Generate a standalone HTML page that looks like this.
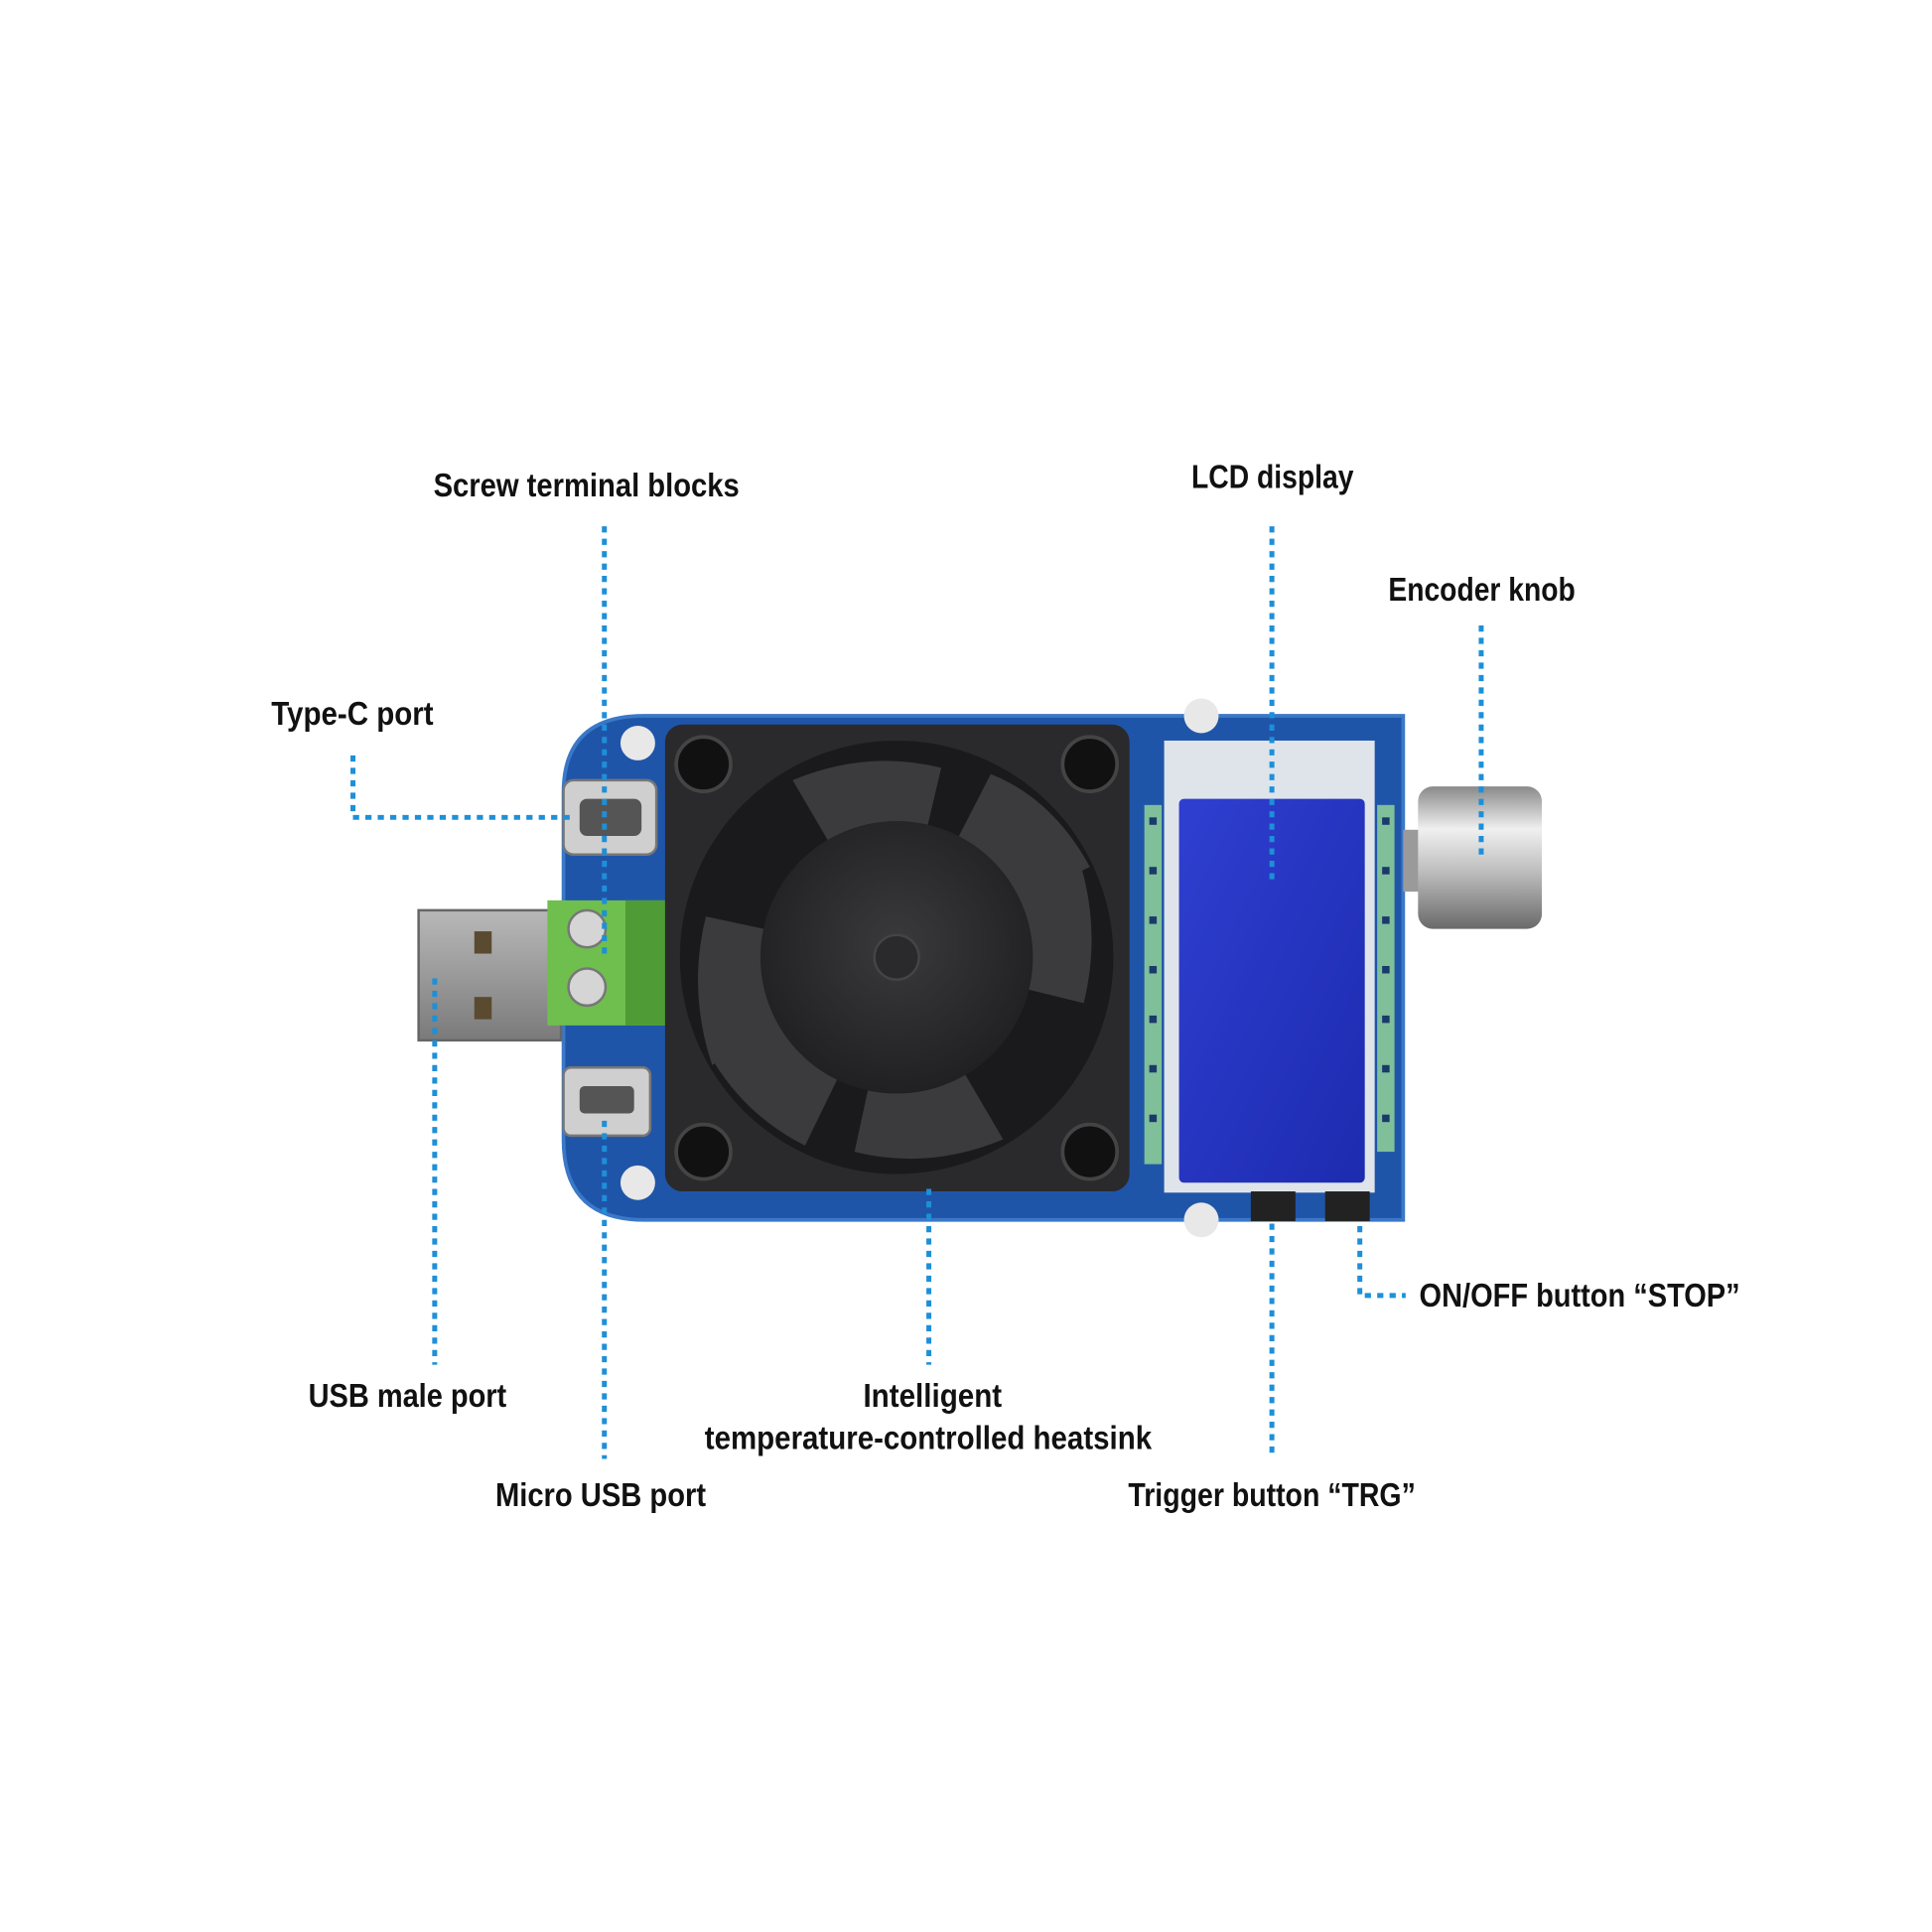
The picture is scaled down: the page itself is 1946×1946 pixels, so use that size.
<!DOCTYPE html>
<html><head><meta charset="utf-8"><style>
html,body{margin:0;padding:0;background:#fff;}
svg{display:block;}
text{font-family:"Liberation Sans Narrow","Liberation Sans",sans-serif;font-weight:bold;font-size:27px;fill:#111;}
</style></head><body>
<svg width="1946" height="1946" viewBox="0 0 1560 1560" xmlns="http://www.w3.org/2000/svg">
<defs>
<radialGradient id="fanhub" cx="50%" cy="45%" r="60%"><stop offset="0" stop-color="#3a3a3c"/><stop offset="1" stop-color="#1e1e20"/></radialGradient>
<linearGradient id="knob" x1="0" y1="0" x2="0" y2="1"><stop offset="0" stop-color="#8a8a8a"/><stop offset="0.3" stop-color="#f0f0f0"/><stop offset="0.6" stop-color="#bdbdbd"/><stop offset="1" stop-color="#6a6a6a"/></linearGradient>
<linearGradient id="usb" x1="0" y1="0" x2="0" y2="1"><stop offset="0" stop-color="#b8b8b8"/><stop offset="0.5" stop-color="#9a9a9a"/><stop offset="1" stop-color="#7a7a7a"/></linearGradient>
<linearGradient id="lcd" x1="0" y1="0" x2="1" y2="1"><stop offset="0" stop-color="#2f3fd0"/><stop offset="1" stop-color="#1d2bb0"/></linearGradient>
</defs>
<!-- PCB -->
<path d="M520 578 L1133 578 L1133 985 L520 985 Q455 985 455 920 L455 640 Q455 578 520 578 Z" fill="#1f55a8"/>
<path d="M520 578 L1133 578 L1133 985 L520 985 Q455 985 455 920 L455 640 Q455 578 520 578 Z" fill="none" stroke="#3a78c8" stroke-width="3"/>
<!-- white mounting pads -->
<circle cx="515" cy="600" r="14" fill="#e8e8e8"/><circle cx="515" cy="955" r="14" fill="#e8e8e8"/>
<circle cx="970" cy="578" r="14" fill="#e8e8e8"/><circle cx="970" cy="985" r="14" fill="#e8e8e8"/>
<!-- USB male -->
<rect x="338" y="735" width="115" height="105" fill="url(#usb)"/>
<rect x="383" y="752" width="14" height="18" fill="#5a4a30"/><rect x="383" y="805" width="14" height="18" fill="#5a4a30"/>
<rect x="338" y="735" width="115" height="105" fill="none" stroke="#666" stroke-width="2"/>
<!-- Type-C -->
<rect x="455" y="630" width="75" height="60" rx="8" fill="#cfcfcf" stroke="#777" stroke-width="2"/>
<rect x="468" y="645" width="50" height="30" rx="6" fill="#555"/>
<!-- Green terminal -->
<rect x="442" y="727" width="98" height="101" fill="#6fbf4e"/>
<rect x="505" y="727" width="35" height="101" fill="#4f9c36"/>
<circle cx="474" cy="750" r="15" fill="#d5d5d5" stroke="#777" stroke-width="2"/>
<circle cx="474" cy="797" r="15" fill="#d5d5d5" stroke="#777" stroke-width="2"/>
<!-- micro usb -->
<rect x="455" y="862" width="70" height="55" rx="6" fill="#cfcfcf" stroke="#777" stroke-width="2"/>
<rect x="468" y="877" width="44" height="22" rx="4" fill="#555"/>
<!-- Fan -->
<rect x="537" y="585" width="375" height="377" rx="14" fill="#2a2a2c"/>
<circle cx="724" cy="773" r="175" fill="#1a1a1c"/>
<g fill="#3b3b3e">
<path d="M724 773 L640 630 Q700 605 760 620 Z"/>
<path d="M724 773 L870 690 Q890 750 875 810 Z"/>
<path d="M724 773 L810 920 Q750 945 690 930 Z"/>
<path d="M724 773 L575 860 Q555 800 570 740 Z"/>
<path d="M724 773 L800 625 Q850 645 880 700 Z"/>
<path d="M724 773 L650 925 Q600 900 572 850 Z"/>
</g>
<circle cx="724" cy="773" r="110" fill="url(#fanhub)"/>
<circle cx="724" cy="773" r="18" fill="#2a2a2c" stroke="#444" stroke-width="2"/>
<circle cx="568" cy="617" r="22" fill="#111" stroke="#444" stroke-width="3"/>
<circle cx="880" cy="617" r="22" fill="#111" stroke="#444" stroke-width="3"/>
<circle cx="568" cy="930" r="22" fill="#111" stroke="#444" stroke-width="3"/>
<circle cx="880" cy="930" r="22" fill="#111" stroke="#444" stroke-width="3"/>
<!-- LCD module -->
<rect x="940" y="598" width="170" height="365" fill="#dfe4ea"/>
<rect x="952" y="645" width="150" height="310" rx="4" fill="url(#lcd)"/>
<g fill="#7fbf9a">
<rect x="924" y="650" width="14" height="290"/><rect x="1112" y="650" width="14" height="280"/>
</g>
<g fill="#1a3a6a">
<rect x="928" y="660" width="6" height="6"/><rect x="928" y="700" width="6" height="6"/><rect x="928" y="740" width="6" height="6"/><rect x="928" y="780" width="6" height="6"/><rect x="928" y="820" width="6" height="6"/><rect x="928" y="860" width="6" height="6"/><rect x="928" y="900" width="6" height="6"/>
<rect x="1116" y="660" width="6" height="6"/><rect x="1116" y="700" width="6" height="6"/><rect x="1116" y="740" width="6" height="6"/><rect x="1116" y="780" width="6" height="6"/><rect x="1116" y="820" width="6" height="6"/><rect x="1116" y="860" width="6" height="6"/><rect x="1116" y="900" width="6" height="6"/>
</g>
<!-- buttons -->
<rect x="1010" y="962" width="36" height="24" fill="#222"/>
<rect x="1070" y="962" width="36" height="24" fill="#222"/>
<!-- Knob -->
<rect x="1133" y="670" width="14" height="50" fill="#9a9a9a"/>
<rect x="1145" y="635" width="100" height="115" rx="12" fill="url(#knob)"/>
<!-- dotted lines -->
<g stroke="#1e8fd8" stroke-width="4" stroke-dasharray="5 5" fill="none">
<path d="M488 425 V770"/>
<path d="M1027 425 V715"/>
<path d="M1196 505 V690"/>
<path d="M285 610 V660 H465"/>
<path d="M351 790 V1102"/>
<path d="M488 905 V1178"/>
<path d="M750 960 V1102"/>
<path d="M1027 988 V1178"/>
<path d="M1098 990 V1046 H1135"/>
</g>
<!-- labels -->
<text x="350" y="401" textLength="247" lengthAdjust="spacingAndGlyphs">Screw terminal blocks</text>
<text x="962" y="394" textLength="131" lengthAdjust="spacingAndGlyphs">LCD display</text>
<text x="1121" y="485" textLength="151" lengthAdjust="spacingAndGlyphs">Encoder knob</text>
<text x="219" y="585" textLength="131" lengthAdjust="spacingAndGlyphs">Type-C port</text>
<text x="249" y="1136" textLength="160" lengthAdjust="spacingAndGlyphs">USB male port</text>
<text x="697" y="1136" textLength="112" lengthAdjust="spacingAndGlyphs">Intelligent</text>
<text x="569" y="1170" textLength="361" lengthAdjust="spacingAndGlyphs">temperature-controlled heatsink</text>
<text x="400" y="1216" textLength="170" lengthAdjust="spacingAndGlyphs">Micro USB port</text>
<text x="911" y="1216" textLength="232" lengthAdjust="spacingAndGlyphs">Trigger button “TRG”</text>
<text x="1146" y="1055" textLength="259" lengthAdjust="spacingAndGlyphs">ON/OFF button “STOP”</text>
</svg>
</body></html>
